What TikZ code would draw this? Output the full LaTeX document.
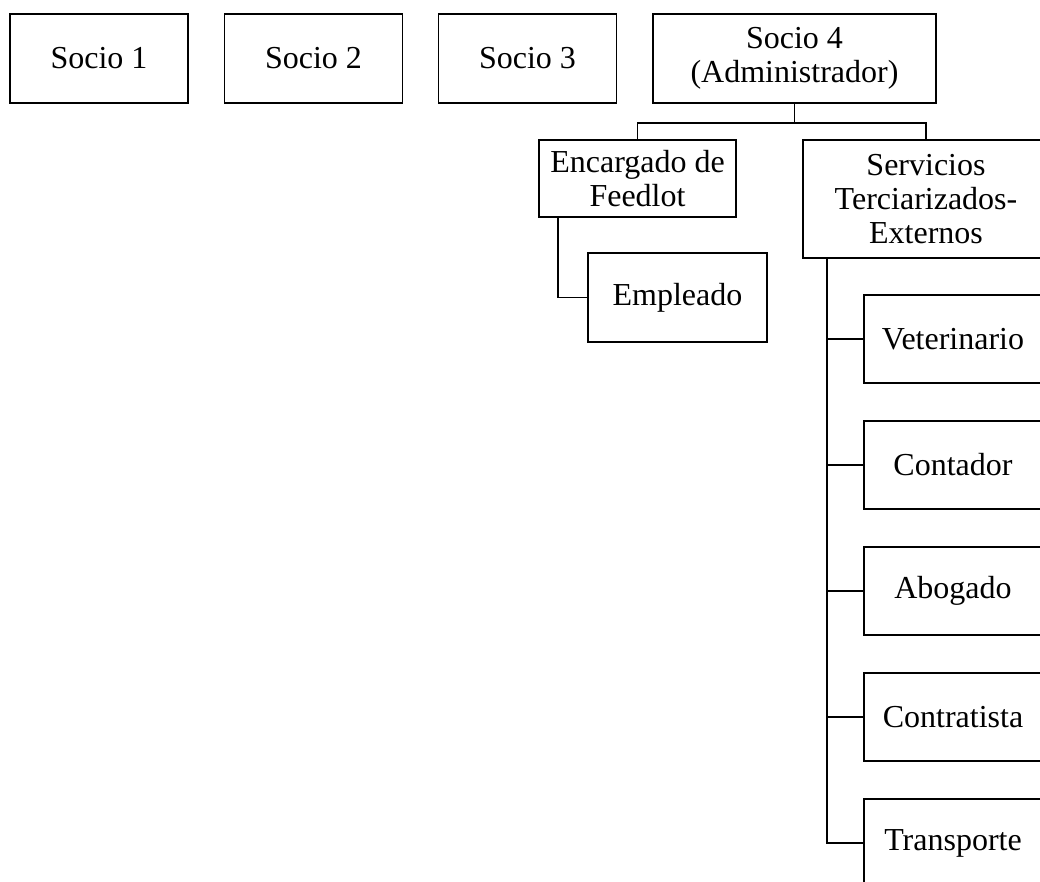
\documentclass[tikz,border=0pt]{standalone}
\usepackage{fontspec}
\setmainfont{Liberation Serif}
\usepackage{tikz}
\usetikzlibrary{positioning}

\begin{document}
\begin{tikzpicture}[x=1pt,y=1pt]
\useasboundingbox (0,0) rectangle (1040,-881);
\begin{scope}[line width=1.8pt,on grid,
		box/.style={rectangle,draw,inner sep=0pt,align=center,
			font=\fontsize{32}{34}\selectfont},
		socio/.style={box,minimum width=178pt,minimum height=89pt},
		serv/.style={box,minimum width=178pt,minimum height=88pt}]
   \node [socio] (s1) at (99,-58.5)		{Socio 1};
   \node [socio] (s2) [right=214.5pt of s1]	{Socio 2};
   \node [socio] (s3) [right=214pt of s2]	{Socio 3};
   \node [socio,minimum width=283pt] (s4) [right=267pt of s3] {Socio 4\\(Administrador)};

   \node [box,minimum width=197pt,minimum height=77pt] (enc) [below=120pt of s4,xshift=-157pt] {Encargado de\\Feedlot};
   \node [box,minimum width=246pt,minimum height=118pt] (ser) [right=288.5pt of enc,yshift=-20.5pt] {Servicios\\Terciarizados-\\Externos};
   \node [socio,minimum width=179pt] (emp) [below=119pt of enc,xshift=40pt] {Empleado};

   \node [serv] (vet) [below=140pt of ser,xshift=27pt] {Veterinario};
   \node [serv] (con) [below=126pt of vet] {Contador};
   \node [serv] (abo) [below=126pt of con] {Abogado};
   \node [serv] (ctr) [below=126pt of abo] {Contratista};
   \node [serv] (tra) [below=126pt of ctr] {Transporte};

   \draw (s4.south) -- ++(0,-19) coordinate (bus);
   \draw (enc.north) |- (bus) -| (ser.north);
   \draw ([xshift=20pt]enc.south west) |- (emp.west);

   \coordinate (spine) at ([xshift=25pt]ser.south west);
   \draw (spine) |- (tra.west);
   \foreach \n in {vet,con,abo,ctr}
      \draw (\n.west) -- (\n.west -| spine);
\end{scope}
\end{tikzpicture}
\end{document}
